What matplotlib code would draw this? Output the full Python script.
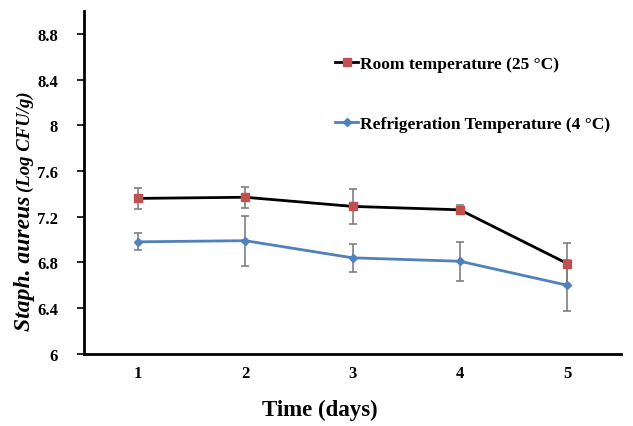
import matplotlib.pyplot as plt
from matplotlib.lines import Line2D

days = [1, 2, 3, 4, 5]
room_mean = [7.36, 7.37, 7.29, 7.26, 6.79]
room_err = [0.095, 0.09, 0.155, 0.04, 0.18]
fridge_mean = [6.98, 6.99, 6.84, 6.81, 6.60]
fridge_err = [0.075, 0.22, 0.12, 0.17, 0.225]
yticks = [6, 6.4, 6.8, 7.2, 7.6, 8, 8.4, 8.8]
labels = ['Room temperature (25 °C)', 'Refrigeration Temperature (4 °C)']

plt.rcParams['font.family'] = ['Liberation Serif', 'DejaVu Serif']
plt.rcParams['font.weight'] = 'bold'

fig = plt.figure(figsize=(6.33, 4.27), dpi=100)
ax = fig.add_axes([0.133, 0.169, 0.848, 0.803])

room_style = dict(color='black', lw=2, marker='s', ms=6, mfc='#C0504D', mec='#C0504D')
fridge_style = dict(color='#4F81BD', lw=2, marker='D', ms=4.5, mfc='#4F81BD', mec='#4F81BD')
err_style = dict(ecolor='#7f7f7f', elinewidth=1.2, capsize=3, capthick=1.2)

ax.errorbar(days, room_mean, yerr=room_err, **room_style, **err_style)
ax.errorbar(days, fridge_mean, yerr=fridge_err, **fridge_style, **err_style)

ax.set_xlim(0.5, 5.5)
ax.set_ylim(6, 9)
ax.set_xticks(days)
ax.set_yticks(yticks)
ax.set_yticklabels([f'{v:g}' for v in yticks])
ax.tick_params(axis='x', length=0, labelsize=12, pad=8)
ax.tick_params(axis='y', length=5, width=1.2, labelsize=12, pad=14)
for s in ['top', 'right']:
    ax.spines[s].set_visible(False)
for s in ['left', 'bottom']:
    ax.spines[s].set_linewidth(2)

fig.text(0.506, 0.04, 'Time (days)', fontsize=16.5, fontweight='bold',
         ha='center', va='center')

fig.text(0.038, 0.543, 'Staph. aureus', rotation=90, fontsize=17,
         fontweight='bold', fontstyle='italic', ha='center', va='top')
fig.text(0.040, 0.551, '(Log CFU/g)', rotation=90, fontsize=13.5,
         fontweight='bold', fontstyle='italic', ha='center', va='bottom')

handles = [Line2D([], [], **room_style), Line2D([], [], **fridge_style)]
ax.legend(handles, labels, loc='upper left', bbox_to_anchor=(0.455, 0.89),
          frameon=False, fontsize=12.5, handlelength=1.3, handletextpad=0.1,
          labelspacing=2.55, borderaxespad=0)

fig.savefig('out.png', dpi=100)
